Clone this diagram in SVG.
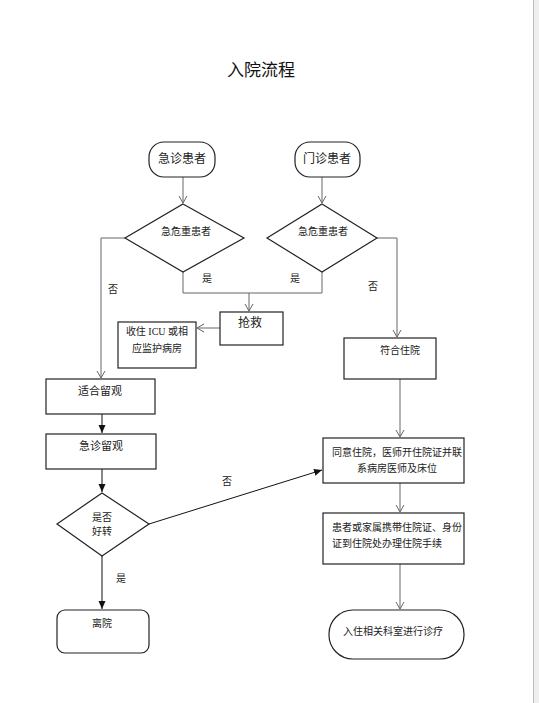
<svg xmlns="http://www.w3.org/2000/svg" width="539" height="703" viewBox="0 0 539 703">
<style>
text{font-family:"Liberation Serif","Noto Sans CJK SC",serif;fill:#222;}
.n{fill:#fff;stroke:#222;stroke-width:1.2;}
.c{fill:none;stroke:#666;stroke-width:1;}
.k{fill:none;stroke:#111;stroke-width:1;}
.t12{font-size:12px;text-anchor:middle;}
.t11{font-size:11px;text-anchor:middle;}
.t10{font-size:10px;text-anchor:middle;}
.l10{font-size:10px;}
</style>
<defs>
<marker id="open" markerWidth="10" markerHeight="10" refX="8" refY="5" orient="auto" markerUnits="userSpaceOnUse">
<path d="M1,1 L8,5 L1,9" fill="none" stroke="#666" stroke-width="1"/>
</marker>
<marker id="fill" markerWidth="10" markerHeight="10" refX="8" refY="4" orient="auto" markerUnits="userSpaceOnUse">
<path d="M0,0.5 L8,4 L0,7.5 Z" fill="#111"/>
</marker>
</defs>
<rect x="0" y="0" width="539" height="703" fill="#fff"/>
<rect x="533.5" y="0" width="5.5" height="703" fill="#efefef"/>
<line x1="533.5" y1="0" x2="533.5" y2="703" stroke="#bbb" stroke-width="1"/>

<text x="261" y="76" style="font-family:'Noto Sans CJK SC','Liberation Sans',sans-serif;font-size:17px;text-anchor:middle;fill:#111">入院流程</text>

<g id="connectors">
<line class="c" x1="183" y1="177" x2="183" y2="203" marker-end="url(#open)"/>
<line class="c" x1="322" y1="177" x2="322" y2="203" marker-end="url(#open)"/>
<polyline class="c" points="183,272 183,293 322,293 322,272"/>
<line class="c" x1="249" y1="293" x2="249" y2="311" marker-end="url(#open)"/>
<line class="c" x1="220" y1="328" x2="197" y2="328" marker-end="url(#open)"/>
<polyline class="c" points="125,238 101,238 101,378" marker-end="url(#open)"/>
<polyline class="c" points="377,238 397,238 397,337" marker-end="url(#open)"/>
<line class="c" x1="400" y1="379" x2="400" y2="437" marker-end="url(#open)"/>
<line class="c" x1="400" y1="483" x2="400" y2="512" marker-end="url(#open)"/>
<line class="c" x1="400" y1="564" x2="400" y2="609" marker-end="url(#open)"/>
<line class="k" x1="102" y1="414" x2="102" y2="433" marker-end="url(#fill)"/>
<line class="k" x1="102" y1="469" x2="102" y2="492" marker-end="url(#fill)"/>
<line class="k" x1="102" y1="556" x2="102" y2="609" marker-end="url(#fill)"/>
<line class="k" x1="149" y1="524" x2="322" y2="470" marker-end="url(#fill)"/>
<text class="l10" x="202" y="282">是</text>
<text class="l10" x="290" y="282">是</text>
<text class="l10" x="108" y="293">否</text>
<text class="l10" x="368" y="290">否</text>
<text class="l10" x="222" y="485">否</text>
<text class="l10" x="116" y="582">是</text>
</g>

<g id="emergency">
<rect class="n" x="149" y="142" width="66" height="35" rx="15"/>
<text class="t12" x="182" y="163">急诊患者</text>
</g>
<g id="outpatient">
<rect class="n" x="295" y="142" width="65" height="35" rx="15"/>
<text class="t12" x="327" y="163">门诊患者</text>
</g>
<g id="critical1">
<polygon class="n" points="183,204 244,238 183,272 125,238"/>
<text class="t10" x="186" y="235">急危重患者</text>
</g>
<g id="critical2">
<polygon class="n" points="322,204 377,238 322,272 267,238"/>
<text class="t10" x="323" y="235">急危重患者</text>
</g>
<g id="rescue">
<rect class="n" x="220" y="312" width="63" height="33"/>
<text class="t12" x="250" y="327">抢救</text>
</g>
<g id="icu">
<rect class="n" x="118" y="322" width="78" height="46"/>
<text class="t10" x="157" y="335">收住 ICU 或相</text>
<text class="t10" x="157" y="352">应监护病房</text>
</g>
<g id="admit-ok">
<rect class="n" x="344" y="338" width="92" height="41"/>
<text class="t10" x="400" y="354">符合住院</text>
</g>
<g id="observe-ok">
<rect class="n" x="46" y="379" width="109" height="35"/>
<text class="t11" x="100" y="395">适合留观</text>
</g>
<g id="observe">
<rect class="n" x="46" y="434" width="110" height="35"/>
<text class="t11" x="101" y="450">急诊留观</text>
</g>
<g id="improve">
<polygon class="n" points="102,493 149,524 102,556 57,524"/>
<text class="t10" x="102" y="521">是否</text>
<text class="t10" x="102" y="535">好转</text>
</g>
<g id="leave">
<rect class="n" x="57" y="610" width="92" height="43" rx="8"/>
<text class="t10" x="102" y="627">离院</text>
</g>
<g id="agree">
<rect class="n" x="323" y="438" width="141" height="45"/>
<text class="l10" x="332" y="456">同意住院，医师开住院证并联</text>
<text class="l10" x="357" y="472">系病房医师及床位</text>
</g>
<g id="procedure">
<rect class="n" x="323" y="513" width="141" height="51"/>
<text class="l10" x="332" y="531">患者或家属携带住院证、身份</text>
<text class="l10" x="332" y="547">证到住院处办理住院手续</text>
</g>
<g id="ward">
<rect class="n" x="329" y="610" width="135" height="49" rx="24"/>
<text class="l10" x="343" y="635">入住相关科室进行诊疗</text>
</g>
</svg>
